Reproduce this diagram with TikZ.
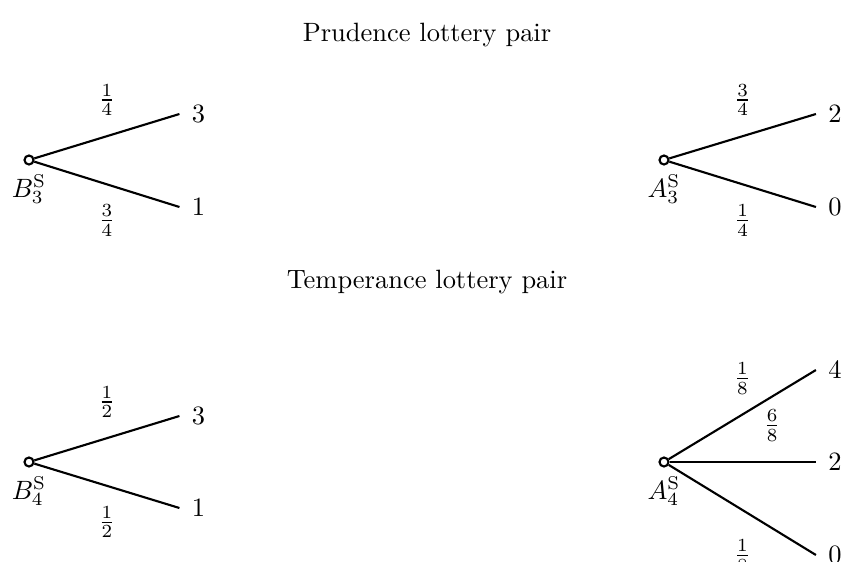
\documentclass[tikz,border=0pt]{standalone}
\usepackage{amsmath}
\usetikzlibrary{positioning}
\tikzset{
	root/.style={circle,draw,thick,fill=white,inner sep=0pt,minimum size=3.4pt},
	outcome/.style={inner sep=4.5pt},
	branch/.style={draw,thick},
	prob/.style={inner sep=3.33pt},
}

\begin{document}
\begin{tikzpicture}[x=0.01327cm,y=0.01327cm]
	\useasboundingbox (0,0) rectangle (844,-561);
	
	% Titles
	\node (prudtitle) at (427,-35) {Prudence lottery pair};
	\node (temptitle) at (427,-282) {Temperance lottery pair};
	
	% Prudence pair: B
	\node[root,label={below:$B_3^{\mathrm{S}}$}] (b3) at (29,-160) {};
	\node[outcome] (b3hi) at (198.5,-114) {3};
	\node[outcome] (b3lo) at (198.5,-207) {1};
	\draw[branch] (b3) -- node[prob,above=4pt] {$\frac{1}{4}$} (b3hi.west);
	\draw[branch] (b3) -- node[prob,below=4pt] {$\frac{3}{4}$} (b3lo.west);
	
	% Prudence pair: A
	\node[root,label={below:$A_3^{\mathrm{S}}$}] (a3) at (664,-160) {};
	\node[outcome] (a3hi) at (835,-114) {2};
	\node[outcome] (a3lo) at (835,-207) {0};
	\draw[branch] (a3) -- node[prob,above=4pt] {$\frac{3}{4}$} (a3hi.west);
	\draw[branch] (a3) -- node[prob,below=4pt] {$\frac{1}{4}$} (a3lo.west);
	
	% Temperance pair: B
	\node[root,label={below:$B_4^{\mathrm{S}}$}] (b4) at (29,-462) {};
	\node[outcome] (b4hi) at (198.5,-416) {3};
	\node[outcome] (b4lo) at (198.5,-508) {1};
	\draw[branch] (b4) -- node[prob,above=4pt] {$\frac{1}{2}$} (b4hi.west);
	\draw[branch] (b4) -- node[prob,below=4pt] {$\frac{1}{2}$} (b4lo.west);
	
	% Temperance pair: A
	\node[root,label={below:$A_4^{\mathrm{S}}$}] (a4) at (664,-462) {};
	\node[outcome] (a4hi) at (835,-370) {4};
	\node[outcome] (a4mid) at (835,-462) {2};
	\node[outcome] (a4lo) at (835,-555) {0};
	\draw[branch] (a4) -- node[prob,above=4pt] {$\frac{1}{8}$} (a4hi.west);
	\draw[branch] (a4) -- node[prob,pos=0.7,above=4pt] {$\frac{6}{8}$} (a4mid.west);
	\draw[branch] (a4) -- node[prob,below=7.5pt] {$\frac{1}{8}$} (a4lo.west);
\end{tikzpicture}
\end{document}
